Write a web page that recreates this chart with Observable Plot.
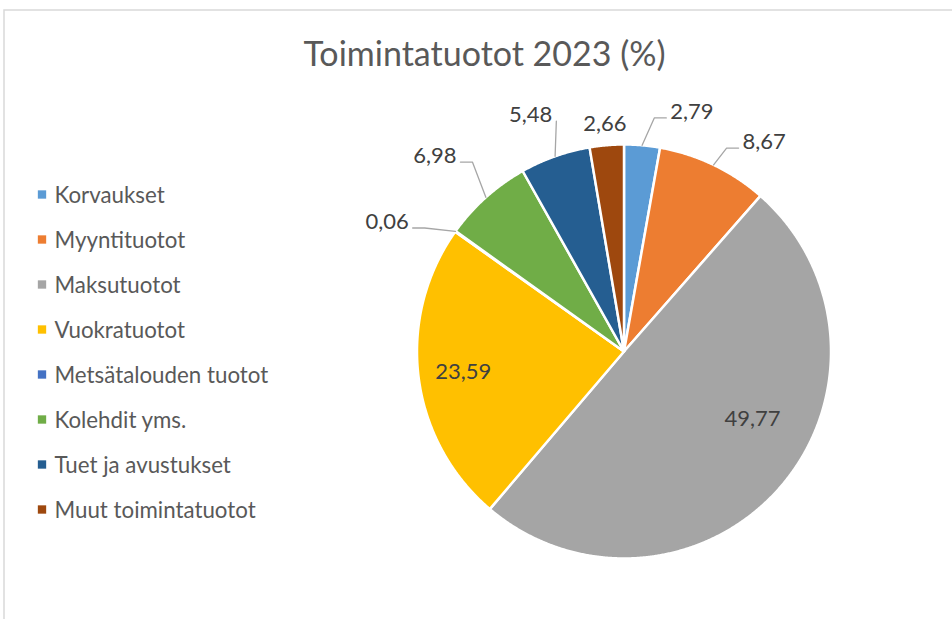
<!DOCTYPE html>
<html><head><meta charset="utf-8">
<script src="https://cdn.jsdelivr.net/npm/d3@7"></script>
<script src="https://cdn.jsdelivr.net/npm/@observablehq/plot@0.6"></script>
<style>html,body{margin:0;padding:0;background:#fff;overflow:hidden;font-family:Lato,sans-serif}</style>
</head><body><div id="chart"></div>
<script>
// ---- data ----
const title = "Toimintatuotot 2023 (%)";
const categories = ["Korvaukset","Myyntituotot","Maksutuotot","Vuokratuotot","Metsätalouden tuotot","Kolehdit yms.","Tuet ja avustukset","Muut toimintatuotot"];
const values = [2.79, 8.67, 49.77, 23.59, 0.06, 6.98, 5.48, 2.66];
const valueLabels = ["2,79","8,67","49,77","23,59","0,06","6,98","5,48","2,66"];
const colors = ["#5B9BD5","#ED7D31","#A5A5A5","#FFC000","#4472C4","#70AD47","#255E91","#9E480E"];

// ---- layout ----
const W = 952, H = 619, cx = 623.5, cy = 351, R = 207;
const labelShift = [10.8, 8.15, -13.2, -0.3, -6.8, -2.2, -2.1, 0]; // degrees from slice mid-angle
const labelDist = [249, 252, 145, 162, 270, 272, 254, 228];
const hasLeader = [true, true, false, false, true, true, true, false];

const arcs = d3.pie().sort(null).value(d => d)(values);
const px = (a, r) => cx + r * Math.sin(a);
const py = (a, r) => cy - r * Math.cos(a);

// slice polygons
const slicePts = [];
arcs.forEach((a, i) => {
  const name = categories[i];
  slicePts.push({name, x: cx, y: cy});
  const n = Math.max(2, Math.ceil((a.endAngle - a.startAngle) / 0.005));
  for (let k = 0; k <= n; k++) {
    const t = a.startAngle + (a.endAngle - a.startAngle) * k / n;
    slicePts.push({name, x: px(t, R), y: py(t, R)});
  }
});

// labels
const labelData = arcs.map((a, i) => {
  const mid = (a.startAngle + a.endAngle) / 2;
  const ang = mid + labelShift[i] * Math.PI / 180;
  return {name: categories[i], text: valueLabels[i], mid, x: px(ang, labelDist[i]), y: py(ang, labelDist[i])};
});

// leader lines
const leaderPts = [];
labelData.forEach((d, i) => {
  if (!hasLeader[i]) return;
  const halfW = d.text.length * 10.8 / 2;
  const p0 = {x: px(d.mid, R), y: py(d.mid, R)};
  const right = d.x > cx;
  const p2 = {x: right ? d.x - halfW - 4 : d.x + halfW + 4, y: d.y + 6};
  let p1 = {x: right ? p2.x - 12 : p2.x + 12, y: p2.y};
  const skip = right ? p0.x > p1.x : p0.x < p1.x;
  const pts = skip ? [p0, p2] : [p0, p1, p2];
  pts.forEach(p => leaderPts.push({name: d.name, x: p.x, y: p.y}));
});

const chart = Plot.plot({
  width: W, height: H, margin: 0,
  x: {domain: [0, W], range: [0, W], axis: null},
  y: {domain: [0, H], range: [0, H], axis: null},
  color: {domain: categories, range: colors},
  style: {fontFamily: "Lato, sans-serif", background: "#fff", overflow: "hidden"},
  marks: [
    Plot.frame({stroke: "#d9d9d9", strokeWidth: 1.5, insetLeft: 3.5, insetTop: 9.5, insetRight: -20, insetBottom: -20}),
    Plot.line(slicePts, {x: "x", y: "y", z: "name", fill: "name", stroke: "#fff", strokeWidth: 2.5, curve: "linear-closed", strokeLinejoin: "round"}),
    Plot.line(leaderPts, {x: "x", y: "y", z: "name", stroke: "#a6a6a6", strokeWidth: 1.3}),
    Plot.text(labelData, {x: "x", y: "y", text: "text", fontSize: 22, fill: "#404040"}),
    Plot.text([title], {x: () => 484, y: () => 55, text: d => d, fontSize: 34, fill: "#595959"}),
    Plot.dot(categories, {x: () => 41.5, y: (d, i) => 194 + 45 * i, symbol: "square", fill: d => d, r: 4.7, stroke: null}),
    Plot.text(categories, {x: () => 54, y: (d, i) => 195 + 45 * i, text: d => d, textAnchor: "start", fontSize: 22.3, fill: "#595959"})
  ]
});
document.getElementById("chart").appendChild(chart);
</script>
</body></html>
